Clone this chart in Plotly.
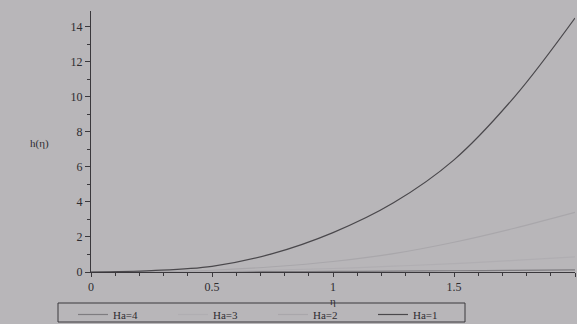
import plotly.graph_objects as go

eta = [0, 0.25, 0.5, 0.75, 1.0, 1.25, 1.5, 1.75, 2.0]
h_ha1 = [0, 0.08, 0.32, 1.05, 2.25, 3.95, 6.4, 10.0, 14.5]
h_ha2 = [0, 0.02, 0.1, 0.3, 0.6, 1.05, 1.7, 2.5, 3.4]
h_ha3 = [0, 0.01, 0.04, 0.1, 0.2, 0.33, 0.48, 0.66, 0.86]
h_ha4 = [0, 0.0, 0.01, 0.02, 0.03, 0.05, 0.07, 0.09, 0.12]

series = [
    ("Ha=4", h_ha4, "#7e7c80"),
    ("Ha=3", h_ha3, "#b0aeb2"),
    ("Ha=2", h_ha2, "#a9a7ab"),
    ("Ha=1", h_ha1, "#4a484c"),
]

font = "Liberation Serif, DejaVu Serif, serif"
fig = go.Figure()
for name, ys, col in series:
    fig.add_trace(go.Scatter(x=eta, y=ys, mode="lines", name=name,
                             line=dict(color=col, width=1.2, shape="spline")))

bg = "#b8b6b9"
W, L, T, B = 484, 91, 11, 272
H = B - T


def px(x):
    return (x - L) / W


def py(y):
    return (B - y) / H


fig.update_layout(
    width=577, height=324,
    margin=dict(l=91, r=2, t=11, b=52, autoexpand=False),
    paper_bgcolor=bg, plot_bgcolor=bg,
    font=dict(family=font, size=12, color="#2e2c30"),
    showlegend=True,
    legend=dict(orientation="h", x=px(73), xanchor="left", y=py(300),
                yanchor="top",
                bgcolor="rgba(0,0,0,0)", borderwidth=0,
                entrywidth=55, entrywidthmode="pixels", itemwidth=30,
                font=dict(family=font, size=11, color="#2e2c30")),
    xaxis=dict(range=[0, 2], showgrid=False, zeroline=False, showline=True,
               linecolor="#3a383c", linewidth=1, ticks="outside", ticklen=4,
               tickcolor="#3a383c", tickvals=[0, 0.5, 1, 1.5, 2],
               ticktext=["0", "0.5", "1", "1.5", "2"],
               minor=dict(dtick=0.1, ticks="outside", ticklen=3, tickcolor="#3a383c"),
               title=None),
    yaxis=dict(range=[0, 14.9], showgrid=False, zeroline=False, showline=True,
               linecolor="#3a383c", linewidth=1, ticks="outside", ticklen=5,
               tickcolor="#3a383c", tickvals=[0, 2, 4, 6, 8, 10, 12, 14],
               minor=dict(dtick=1, ticks="outside", ticklen=3, tickcolor="#3a383c"),
               title=None),
    shapes=[dict(type="rect", xref="paper", yref="paper",
                 x0=px(58), x1=px(465), y0=py(322), y1=py(303),
                 line=dict(color="#3a383c", width=1), fillcolor="rgba(0,0,0,0)")],
    annotations=[
        dict(text="h(η)", x=px(28), y=py(143), xref="paper", yref="paper",
             showarrow=False, font=dict(size=11)),
        dict(text="η", x=px(333), y=py(294), xref="paper", yref="paper",
             xanchor="center", yanchor="top", borderpad=0,
             showarrow=False, font=dict(size=11)),
    ],
)
fig.write_html("out.html")
